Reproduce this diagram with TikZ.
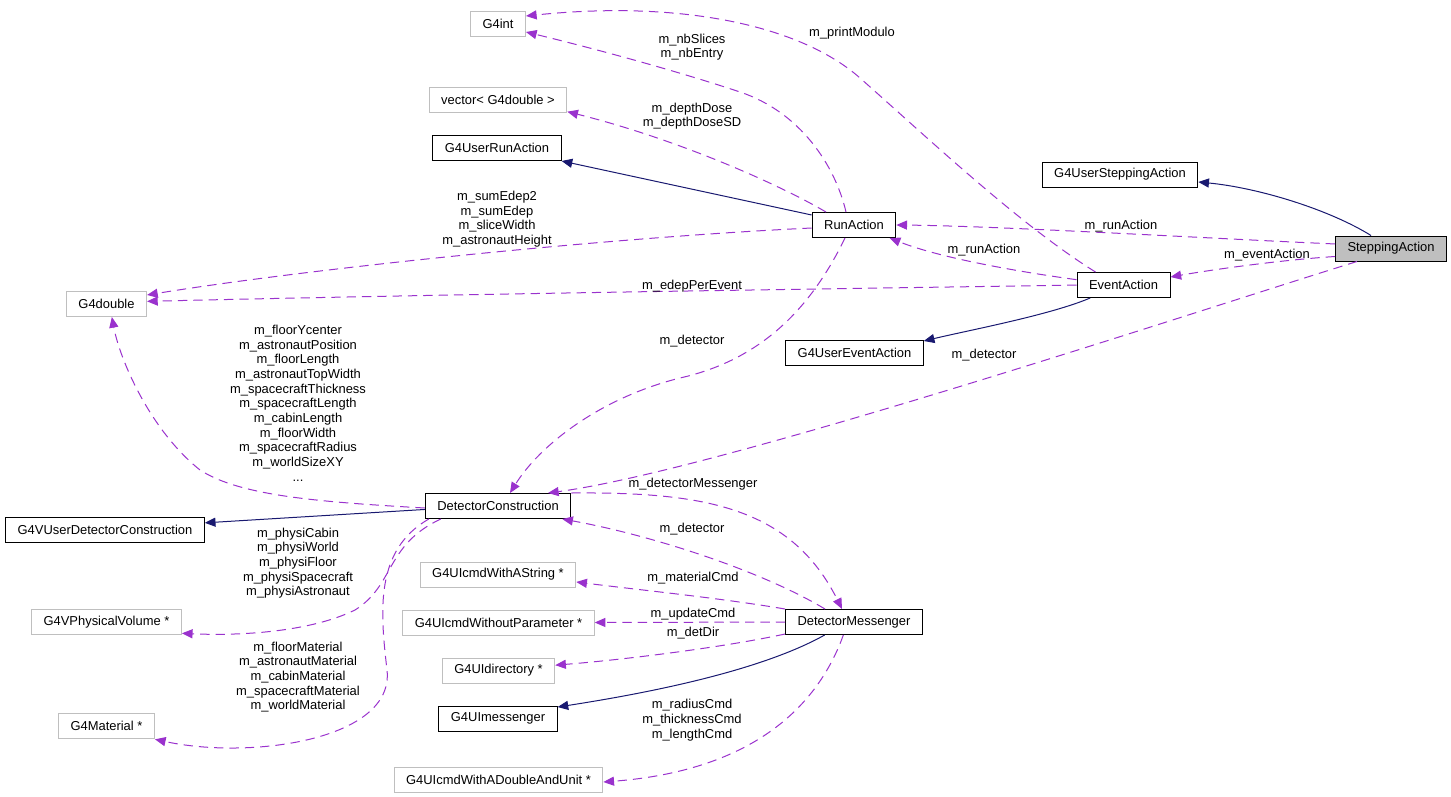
\documentclass[tikz,border=0pt]{standalone}
\usepackage{fontspec}
\setmainfont{Liberation Sans}
\usetikzlibrary{arrows.meta}

\definecolor{usecol}{HTML}{9A32CD}
\definecolor{inhcol}{HTML}{191970}
\definecolor{extcol}{HTML}{BFBFBF}

\begin{document}
\begin{tikzpicture} [x=0.75pt, y=-0.75pt,
            font=\fontsize{9.7}{11}\selectfont,
            cls/.style={draw=black, line width=0.75pt,
                minimum height=18.75pt, inner xsep=9pt, inner ysep=0pt},
            ext/.style={cls, draw=extcol},
            self/.style={cls, fill=extcol},
            lbl/.style={align=center, inner sep=0pt},
            uses/.style={draw=usecol, line width=0.75pt,
                dash pattern=on 7pt off 4.5pt,
                -{Triangle[length=8pt, width=6.8pt]}},
            inherits/.style={draw=inhcol, line width=0.75pt,
                -{Triangle[length=8pt, width=6.8pt]}}]

        \useasboundingbox (0,0) rectangle (1451,796);

        % Class SteppingAction
        \node (stepping) [self] at (1391,248.5) {SteppingAction};
        \node (userstep) [cls] at (1120,174.5) {G4UserSteppingAction};

        % Class RunAction and EventAction
        \node (runact) [cls] at (854,225) {RunAction};
        \node (eventact) [cls] at (1123.5,285) {EventAction};
        \node (userrun) [cls] at (497,148) {G4UserRunAction};
        \node (userevent) [cls] at (854.5,353) {G4UserEventAction};

        % Plain types
        \node (g4int) [ext] at (498,24) {G4int};
        \node (vecdouble) [ext] at (498,100) {vector< G4double >};
        \node (g4double) [ext] at (106.5,304) {G4double};

        % Class DetectorConstruction
        \node (detcons) [cls] at (498,506) {DetectorConstruction};
        \node (vusercons) [cls] at (105,529.5) {G4VUserDetectorConstruction};
        \node (physvol) [ext] at (106.5,622.3) {G4VPhysicalVolume *};
        \node (material) [ext] at (106.5,726.3) {G4Material *};

        % Class DetectorMessenger
        \node (detmess) [cls] at (854,622) {DetectorMessenger};
        \node (cmdstring) [ext] at (498,574.5) {G4UIcmdWithAString *};
        \node (cmdnoparam) [ext] at (498.5,622.5) {G4UIcmdWithoutParameter *};
        \node (uidir) [ext] at (498.5,670.5) {G4UIdirectory *};
        \node (uimess) [cls] at (498,718.5) {G4UImessenger};
        \node (cmddouble) [ext] at (498.5,780) {G4UIcmdWithADoubleAndUnit *};

        % Inheritance
        \draw [inherits] ([xshift=-15pt]stepping.north)
            .. controls (1330,210) and (1260,188) .. ([yshift=-5.6pt]userstep.east);
        \draw [inherits] ([yshift=7.5pt]runact.west) -- (userrun.south east);
        \draw [inherits] ([xshift=-25pt]eventact.south)
            .. controls (1050,315) and (970,330) .. ([yshift=9pt]userevent.east);
        \draw [inherits] ([yshift=-2.6pt]detcons.west) -- ([yshift=5pt]vusercons.east);
        \draw [inherits] ([xshift=-22pt]detmess.south)
            .. controls (780,660) and (700,685) .. ([yshift=8.6pt]uimess.east);

        % Members of RunAction
        \draw [uses] ([xshift=-6pt]runact.north)
            .. controls (835,165) and (800,112) .. (740,92)
            .. controls (680,72) and (600,50) .. ([yshift=-6pt]g4int.east);
        \draw [uses] ([xshift=-21pt]runact.north)
            .. controls (780,185) and (680,140) .. ([yshift=1pt]vecdouble.south east);
        \draw [uses] ([yshift=-2.25pt]runact.west)
            .. controls (600,238) and (300,270) .. ([yshift=6.75pt]g4double.east);
        \draw [uses] ([xshift=-6.75pt]runact.south)
            .. controls (810,310) and (760,360) .. (680,378)
            .. controls (600,398) and (540,445) .. ([xshift=9pt]detcons.north);

        % Members of EventAction
        \draw [uses] ([xshift=-21pt]eventact.north)
            .. controls (1020,225) and (930,140) .. (860,78)
            .. controls (800,25) and (680,0) .. ([yshift=6pt]g4int.east);
        \draw [uses] (eventact.west)
            .. controls (900,288) and (500,293) .. ([yshift=2pt]g4double.east);
        \draw [uses] ([yshift=4pt]eventact.west)
            .. controls (1020,272) and (940,258) .. ([xshift=-5pt]runact.south east);

        % Members of SteppingAction
        \draw [uses] ([yshift=3.4pt]stepping.west)
            .. controls (1200,238) and (1000,226) .. (runact.east);
        \draw [uses] ([yshift=-6pt]stepping.west)
            .. controls (1280,260) and (1210,270) .. ([yshift=6pt]eventact.east);
        \draw [uses] ([xshift=-25.5pt]stepping.south)
            .. controls (1200,310) and (720,470) .. ([xshift=37.5pt]detcons.north);

        % Members of DetectorConstruction
        \draw [uses] (detcons.north east)
            .. controls (700,492) and (790,505) .. ([xshift=-9pt]detmess.north);
        \draw [uses] ([yshift=-1.5pt]detcons.west)
            .. controls (320,502) and (240,496) .. (200,470)
            .. controls (150,430) and (120,360) .. ([xshift=4pt]g4double.south);
        \draw [uses] ([xshift=12pt]detcons.south west)
            .. controls (385,545) and (395,585) .. (355,610)
            .. controls (310,632) and (240,636) .. ([yshift=1.5pt]physvol.south east);
        \draw [uses] ([xshift=3pt]detcons.south west)
            .. controls (375,550) and (380,610) .. (387,670)
            .. controls (395,740) and (250,760) .. (material.south east);

        % Members of DetectorMessenger
        \draw [uses] ([xshift=-21.75pt]detmess.north)
            .. controls (760,570) and (650,535) .. ([xshift=-6.75pt]detcons.south east);
        \draw [uses] (detmess.north west)
            .. controls (720,598) and (640,590) .. ([yshift=-5.6pt]cmdstring.east);
        \draw [uses] (detmess.west) -- (cmdnoparam.east);
        \draw [uses] ([yshift=-9pt]detmess.west)
            .. controls (720,648) and (620,660) .. ([yshift=4pt]uidir.east);
        \draw [uses] ([xshift=-8pt]detmess.south)
            .. controls (820,700) and (760,770) .. ([yshift=-1.5pt]cmddouble.east);

        % Labels
        \node (l_nbslices) [lbl] at (692,47) {m\_nbSlices\\m\_nbEntry};
        \node (l_printmod) [lbl] at (852,33) {m\_printModulo};
        \node (l_depthdose) [lbl] at (692,116) {m\_depthDose\\m\_depthDoseSD};
        \node (l_sumedep) [lbl] at (497,219) {m\_sumEdep2\\m\_sumEdep\\m\_sliceWidth\\m\_astronautHeight};
        \node (l_edep) [lbl] at (692,286) {m\_edepPerEvent};
        \node (l_runact1) [lbl] at (1121,226) {m\_runAction};
        \node (l_runact2) [lbl] at (984,250) {m\_runAction};
        \node (l_eventact) [lbl] at (1267,255) {m\_eventAction};
        \node (l_detector1) [lbl] at (984,355) {m\_detector};
        \node (l_detector2) [lbl] at (692,341) {m\_detector};
        \node (l_floor) [lbl] at (298,403) {m\_floorYcenter\\m\_astronautPosition\\m\_floorLength\\m\_astronautTopWidth\\m\_spacecraftThickness\\m\_spacecraftLength\\m\_cabinLength\\m\_floorWidth\\m\_spacecraftRadius\\m\_worldSizeXY\\...};
        \node (l_detmess) [lbl] at (693,484) {m\_detectorMessenger};
        \node (l_detector3) [lbl] at (692,529) {m\_detector};
        \node (l_physi) [lbl] at (298,563) {m\_physiCabin\\m\_physiWorld\\m\_physiFloor\\m\_physiSpacecraft\\m\_physiAstronaut};
        \node (l_material) [lbl] at (298,677) {m\_floorMaterial\\m\_astronautMaterial\\m\_cabinMaterial\\m\_spacecraftMaterial\\m\_worldMaterial};
        \node (l_matcmd) [lbl] at (693,578) {m\_materialCmd};
        \node (l_update) [lbl] at (693,614) {m\_updateCmd};
        \node (l_detdir) [lbl] at (693,633) {m\_detDir};
        \node (l_radius) [lbl] at (692,720) {m\_radiusCmd\\m\_thicknessCmd\\m\_lengthCmd};
        \end{tikzpicture}
\end{document}
